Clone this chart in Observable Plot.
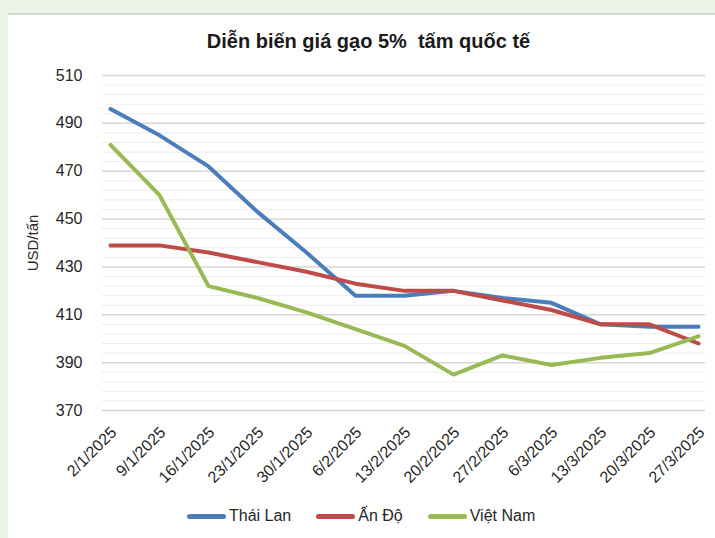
<!DOCTYPE html>
<html><head><meta charset="utf-8">
<script src="https://cdn.jsdelivr.net/npm/d3@7"></script>
<script src="https://cdn.jsdelivr.net/npm/@observablehq/plot@0.6"></script>
<style>
html,body{margin:0;padding:0;background:#ebf2e6;width:715px;height:538px;overflow:hidden;font-family:"Liberation Sans",Arial,sans-serif;}
#panel{position:absolute;left:8px;top:13px;width:707px;height:525px;background:#fff;border-top:2px solid #d4d6d2;box-sizing:border-box;}
#title{position:absolute;left:15px;width:707px;top:29px;line-height:24px;text-align:center;font-weight:bold;font-size:20px;color:#1a1a1a;white-space:pre;}
#chart{position:absolute;left:8px;top:55px;}
#legend{position:absolute;left:187px;top:506px;height:20px;display:flex;align-items:center;font-size:16px;color:#262626;line-height:20px;}
.sw{width:39px;height:5px;border-radius:3px;margin-right:3px;}
.it{display:flex;align-items:center;margin-right:25px;}
</style></head>
<body>
<div id="panel"></div>
<div id="title">Diễn biến giá gạo 5%  tấm quốc tế</div>
<div id="chart"></div>
<div id="legend"></div>
<script>
const dates = ["2/1/2025","9/1/2025","16/1/2025","23/1/2025","30/1/2025","6/2/2025","13/2/2025","20/2/2025","27/2/2025","6/3/2025","13/3/2025","20/3/2025","27/3/2025"];
const thaiLan = [496, 485, 472, 453, 436, 418, 418, 420, 417, 415, 406, 405, 405];
const anDo    = [439, 439, 436, 432, 428, 423, 420, 420, 416, 412, 406, 406, 398];
const vietNam = [481, 460, 422, 417, 411, 404, 397, 385, 393, 389, 392, 394, 401];
const seriesNames = ["Thái Lan", "Ấn Độ", "Việt Nam"];
const seriesColors = ["#4a7ebb", "#be4b48", "#98b954"];
const yTicks = [370, 390, 410, 430, 450, 470, 490, 510];
const yMinor = d3.range(370, 511, 4).filter(v => (v - 370) % 20 !== 0);
const yLabel = "USD/tấn";

const seriesValues = [thaiLan, anDo, vietNam];
const data = [];
seriesNames.forEach((s, i) => dates.forEach((d, j) => data.push({series: s, date: d, value: seriesValues[i][j]})));

const chart = Plot.plot({
  width: 707, height: 440,
  marginTop: 20, marginBottom: 85, marginLeft: 94, marginRight: 10,
  style: {fontFamily: '"Liberation Sans", Arial, sans-serif', background: "transparent"},
  x: {type: "point", domain: dates, padding: 0, insetLeft: 2, insetRight: 2, axis: null},
  y: {domain: [370, 510], axis: null},
  color: {domain: seriesNames, range: seriesColors},
  marks: [
    Plot.ruleY(yMinor, {stroke: "#ececec", strokeWidth: 1}),
    Plot.ruleY(yTicks, {stroke: "#d6d6d6", strokeWidth: 1.5}),
    Plot.axisY({ticks: yTicks, tickSize: 0, tickPadding: 20, fontSize: 16, fill: "#262626", label: null}),
    Plot.text([yLabel], {frameAnchor: "left", dx: -69, rotate: -90, fontSize: 15, fill: "#262626", textAnchor: "middle"}),
    Plot.text(dates, {x: d => d, frameAnchor: "bottom", rotate: -45, textAnchor: "end", dx: 7, dy: 23, fontSize: 16, fill: "#262626"}),
    Plot.line(data, {x: "date", y: "value", z: "series", stroke: "series", strokeWidth: 4, strokeLinejoin: "round", strokeLinecap: "round"})
  ]
});
document.getElementById("chart").appendChild(chart);

const legend = document.getElementById("legend");
seriesNames.forEach((s, i) => {
  const it = document.createElement("div");
  it.className = "it";
  const sw = document.createElement("div");
  sw.className = "sw";
  sw.style.background = seriesColors[i];
  const tx = document.createElement("span");
  tx.textContent = s;
  it.appendChild(sw); it.appendChild(tx);
  legend.appendChild(it);
});
</script>
</body></html>
